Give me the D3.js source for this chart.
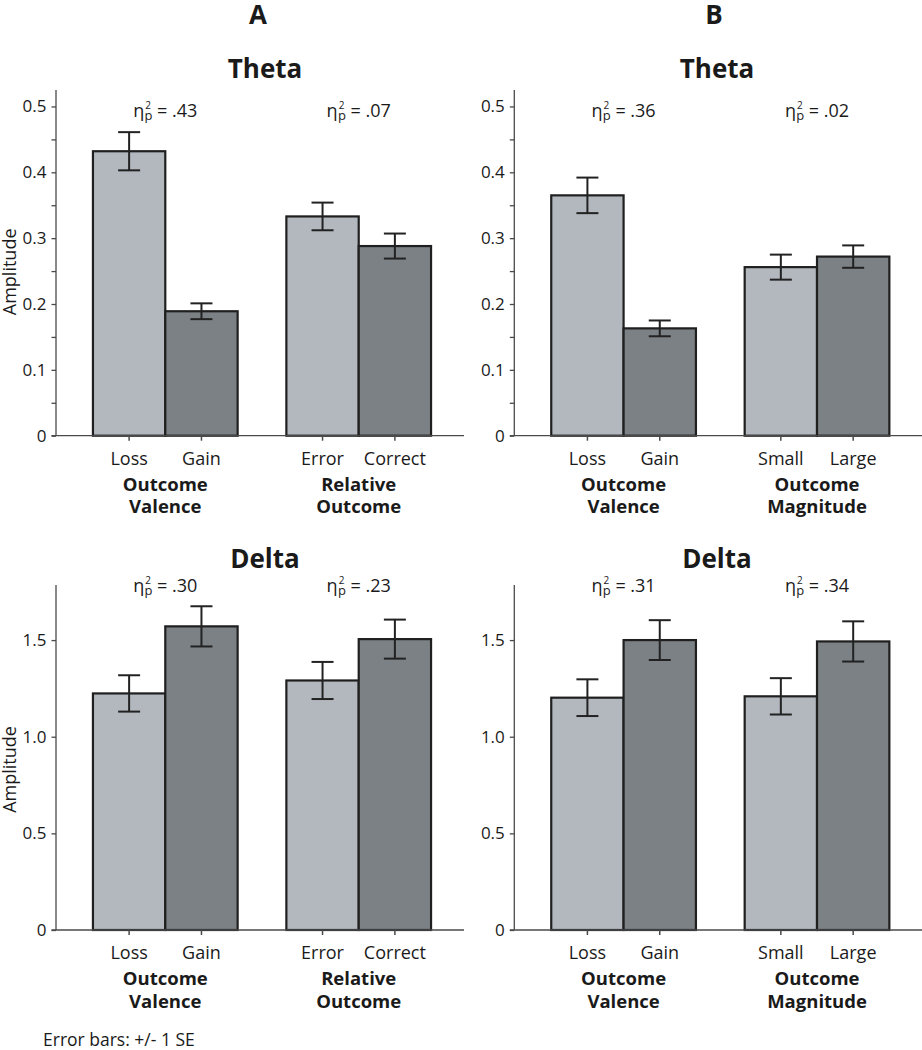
<!DOCTYPE html>
<html>
<head>
<meta charset="utf-8">
<script src="https://cdn.jsdelivr.net/npm/d3@7"></script>
<style>
  html, body { margin: 0; padding: 0; background: #fff; }
  svg { display: block; font-family: "Open Sans", "Noto Sans", sans-serif; }
</style>
</head>
<body>
<svg id="chart" width="922" height="1050"></svg>
<script>
// ---------- Data ----------
const columnLabels = ["A", "B"];
const rowTitles = ["Theta", "Delta"];

const conditionsA = [["Loss", "Gain"], ["Error", "Correct"]];
const conditionsB = [["Loss", "Gain"], ["Small", "Large"]];
const groupLabelsA = [["Outcome", "Valence"], ["Relative", "Outcome"]];
const groupLabelsB = [["Outcome", "Valence"], ["Outcome", "Magnitude"]];

// Theta amplitudes (mean, SE)
const thetaA_mean = [0.432, 0.189, 0.333, 0.288];
const thetaA_se   = [0.029, 0.012, 0.021, 0.019];
const thetaB_mean = [0.365, 0.163, 0.256, 0.272];
const thetaB_se   = [0.027, 0.012, 0.019, 0.017];

// Delta amplitudes (mean, SE)
const deltaA_mean = [1.224, 1.571, 1.291, 1.505];
const deltaA_se   = [0.094, 0.104, 0.096, 0.101];
const deltaB_mean = [1.202, 1.500, 1.209, 1.493];
const deltaB_se   = [0.095, 0.103, 0.094, 0.104];

// partial eta squared per group
const etaThetaA = [".43", ".07"];
const etaThetaB = [".36", ".02"];
const etaDeltaA = [".30", ".23"];
const etaDeltaB = [".31", ".34"];

// y-axis ticks
const thetaTicks = [0, 0.1, 0.2, 0.3, 0.4, 0.5];
const thetaMinorTicks = [0.05, 0.15, 0.25, 0.35, 0.45];
const thetaTickLabels = ["0", "0.1", "0.2", "0.3", "0.4", "0.5"];
const deltaTicks = [0, 0.5, 1.0, 1.5];
const deltaTickLabels = ["0", "0.5", "1.0", "1.5"];

const footnote = "Error bars: +/- 1 SE";

// ---------- Layout ----------
const svg = d3.select("#chart");
const colors = ["#b3b8bf", "#7b8185"];
const axisColor = "#4a4a4a";
const barStroke = "#1f1f1f";

const colX = [56, 514.3];        // y-axis x positions
const plotW = 412;               // band range width
const axisLen = [408, 410];      // drawn x-axis length per column
const rows = [
  { zero: 435.7, top: 90,  max: 0.525, ticks: thetaTicks, minor: thetaMinorTicks, labels: thetaTickLabels, etaY: 116.7, titleY: 78 },
  { zero: 930,   top: 585, max: 1.785, ticks: deltaTicks, minor: [],              labels: deltaTickLabels, etaY: 591.7, titleY: 568 }
];

const panels = [
  { row: 0, col: 0, mean: thetaA_mean, se: thetaA_se, cond: conditionsA, groups: groupLabelsA, eta: etaThetaA, ylabel: true },
  { row: 0, col: 1, mean: thetaB_mean, se: thetaB_se, cond: conditionsB, groups: groupLabelsB, eta: etaThetaB, ylabel: false },
  { row: 1, col: 0, mean: deltaA_mean, se: deltaA_se, cond: conditionsA, groups: groupLabelsA, eta: etaDeltaA, ylabel: true },
  { row: 1, col: 1, mean: deltaB_mean, se: deltaB_se, cond: conditionsB, groups: groupLabelsB, eta: etaDeltaB, ylabel: false }
];

const titleCenters = [265, 717];
const letterCenters = [258, 714];

// column letters
columnLabels.forEach((l, i) => {
  svg.append("text")
    .attr("x", letterCenters[i]).attr("y", 24)
    .attr("text-anchor", "middle")
    .attr("font-size", 26).attr("font-weight", 700).attr("fill", "#1a1a1a")
    .text(l);
});

// row titles
rows.forEach((r, ri) => {
  titleCenters.forEach(cx => {
    svg.append("text")
      .attr("x", cx).attr("y", r.titleY)
      .attr("text-anchor", "middle")
      .attr("font-size", 26).attr("font-weight", 700).attr("fill", "#1a1a1a")
      .text(rowTitles[ri]);
  });
});

panels.forEach(p => {
  const r = rows[p.row];
  const x0 = colX[p.col];
  const g = svg.append("g").attr("transform", `translate(${x0},0)`);

  const y = d3.scaleLinear().domain([0, r.max]).range([r.zero, r.top]);

  const groupIdx = [0, 1];
  const xg = d3.scaleBand().domain(groupIdx).range([0, plotW]).paddingInner(0.252).paddingOuter(0.191);
  const xi = d3.scaleBand().domain([0, 1]).range([0, xg.bandwidth()]).padding(0);

  const data = [];
  groupIdx.forEach(gi => {
    [0, 1].forEach(ci => {
      const k = gi * 2 + ci;
      data.push({ gi, ci, label: p.cond[gi][ci], m: p.mean[k], se: p.se[k] });
    });
  });

  // bars
  g.selectAll("rect.bar").data(data).enter().append("rect")
    .attr("class", "bar")
    .attr("x", d => xg(d.gi) + xi(d.ci))
    .attr("width", xi.bandwidth())
    .attr("y", d => y(d.m))
    .attr("height", d => y(0) - y(d.m))
    .attr("fill", d => colors[d.ci])
    .attr("stroke", barStroke)
    .attr("stroke-width", 2.2);

  // y axis (major)
  const yAxis = d3.axisLeft(y).tickValues(r.ticks).tickSize(4.5).tickPadding(5)
    .tickFormat((d, i) => r.labels[i]);
  const ya = g.append("g").call(yAxis);
  ya.select(".domain").remove();
  ya.selectAll(".tick line").attr("stroke", axisColor).attr("stroke-width", 1.3);
  ya.selectAll(".tick text").attr("font-size", 17).attr("fill", "#1a1a1a")
    .attr("font-family", '"Open Sans", sans-serif');

  if (r.minor.length) {
    const ym = g.append("g").call(d3.axisLeft(y).tickValues(r.minor).tickSize(4.5).tickFormat(""));
    ym.select(".domain").remove();
    ym.selectAll(".tick line").attr("stroke", axisColor).attr("stroke-width", 1.3);
  }

  // axis lines
  g.append("line").attr("x1", 0).attr("x2", 0).attr("y1", y(r.max)).attr("y2", y(0))
    .attr("stroke", axisColor).attr("stroke-width", 1.3);
  g.append("line").attr("x1", -4.5).attr("x2", axisLen[p.col]).attr("y1", y(0)).attr("y2", y(0))
    .attr("stroke", axisColor).attr("stroke-width", 1.3);

  // x ticks & category labels
  data.forEach(d => {
    const cx = xg(d.gi) + xi(d.ci) + xi.bandwidth() / 2;
    g.append("line").attr("x1", cx).attr("x2", cx).attr("y1", y(0)).attr("y2", y(0) + 5)
      .attr("stroke", axisColor).attr("stroke-width", 1.5);
    g.append("text").attr("x", cx).attr("y", y(0) + 29)
      .attr("text-anchor", "middle").attr("font-size", 18).attr("fill", "#1a1a1a")
      .text(d.label);
  });

  // error bars
  const cap = 11;
  data.forEach(d => {
    const cx = xg(d.gi) + xi(d.ci) + xi.bandwidth() / 2;
    const eb = g.append("g").attr("stroke", "#222").attr("stroke-width", 2);
    eb.append("line").attr("x1", cx).attr("x2", cx).attr("y1", y(d.m + d.se)).attr("y2", y(d.m - d.se));
    eb.append("line").attr("x1", cx - cap).attr("x2", cx + cap).attr("y1", y(d.m + d.se)).attr("y2", y(d.m + d.se));
    eb.append("line").attr("x1", cx - cap).attr("x2", cx + cap).attr("y1", y(d.m - d.se)).attr("y2", y(d.m - d.se));
  });

  // group labels & eta
  groupIdx.forEach(gi => {
    const gc = xg(gi) + xg.bandwidth() / 2;
    p.groups[gi].forEach((t, li) => {
      g.append("text").attr("x", gc).attr("y", y(0) + 55 + li * 22.5)
        .attr("text-anchor", "middle").attr("font-size", 18.5).attr("font-weight", 700)
        .attr("fill", "#1a1a1a").text(t);
    });
    const et = g.append("text").attr("x", gc).attr("y", r.etaY)
      .attr("text-anchor", "middle").attr("font-size", 18).attr("fill", "#1a1a1a");
    et.append("tspan").text("\u03B7");
    et.append("tspan").attr("font-size", 10).attr("dy", -7.7).attr("dx", 1).text("2");
    et.append("tspan").attr("font-size", 13).attr("dy", 11.2).attr("dx", -6.5).text("p");
    et.append("tspan").attr("font-size", 18).attr("dy", -3.5).text(" = " + p.eta[gi]);
  });

  if (p.ylabel) {
    const midY = (y(0) + y(r.max)) / 2 + (p.row === 0 ? 9 : 12);
    g.append("text")
      .attr("transform", `translate(${-40},${midY}) rotate(-90)`)
      .attr("text-anchor", "middle").attr("font-size", 18).attr("fill", "#1a1a1a")
      .text("Amplitude");
  }
});

svg.append("text").attr("x", 43).attr("y", 1046)
  .attr("font-size", 17.5).attr("fill", "#1a1a1a").text(footnote);
</script>
</body>
</html>
